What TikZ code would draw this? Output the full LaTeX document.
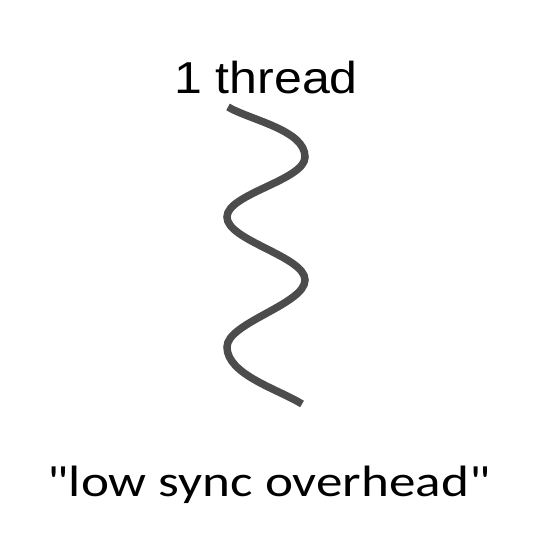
\documentclass[tikz,border=0pt]{standalone}
\usepackage{fontspec}
\setmainfont{Liberation Sans}
\newfontfamily\bottomfont{Carlito}
\definecolor{wavegray}{HTML}{4C4C4C}
\tikzset{
  wave/.style={draw=wavegray, line width=7.5pt, line cap=butt},
  lbl/.style={inner sep=0pt, anchor=base, text=black}
}
\begin{document}
\begin{tikzpicture}[x=1pt,y=1pt]
\useasboundingbox (0,0) rectangle (533,533);
\node[lbl, font=\fontsize{44.7}{50}\selectfont] (title) at (266,439) {\scalebox{1.12}[1]{1 thread}};
\coordinate (w0) at (228,426);
\coordinate (w1) at (305,376);
\coordinate (w2) at (227,316);
\coordinate (w3) at (305,253);
\coordinate (w4) at (227,186);
\coordinate (w5) at (302,129);
\draw[wave] (w0) to[out=-30,in=90,looseness=0.75] (w1) to[out=-90,in=90,looseness=0.6] (w2) to[out=-90,in=90,looseness=0.6] (w3) to[out=-90,in=90,looseness=0.6] (w4) to[out=-90,in=148,looseness=0.75] (w5);
\node[lbl, font=\bottomfont\fontsize{43.9}{50}\selectfont] (caption) at (269,36) {\scalebox{1.21}[1]{"low sync overhead"}};
\end{tikzpicture}
\end{document}
